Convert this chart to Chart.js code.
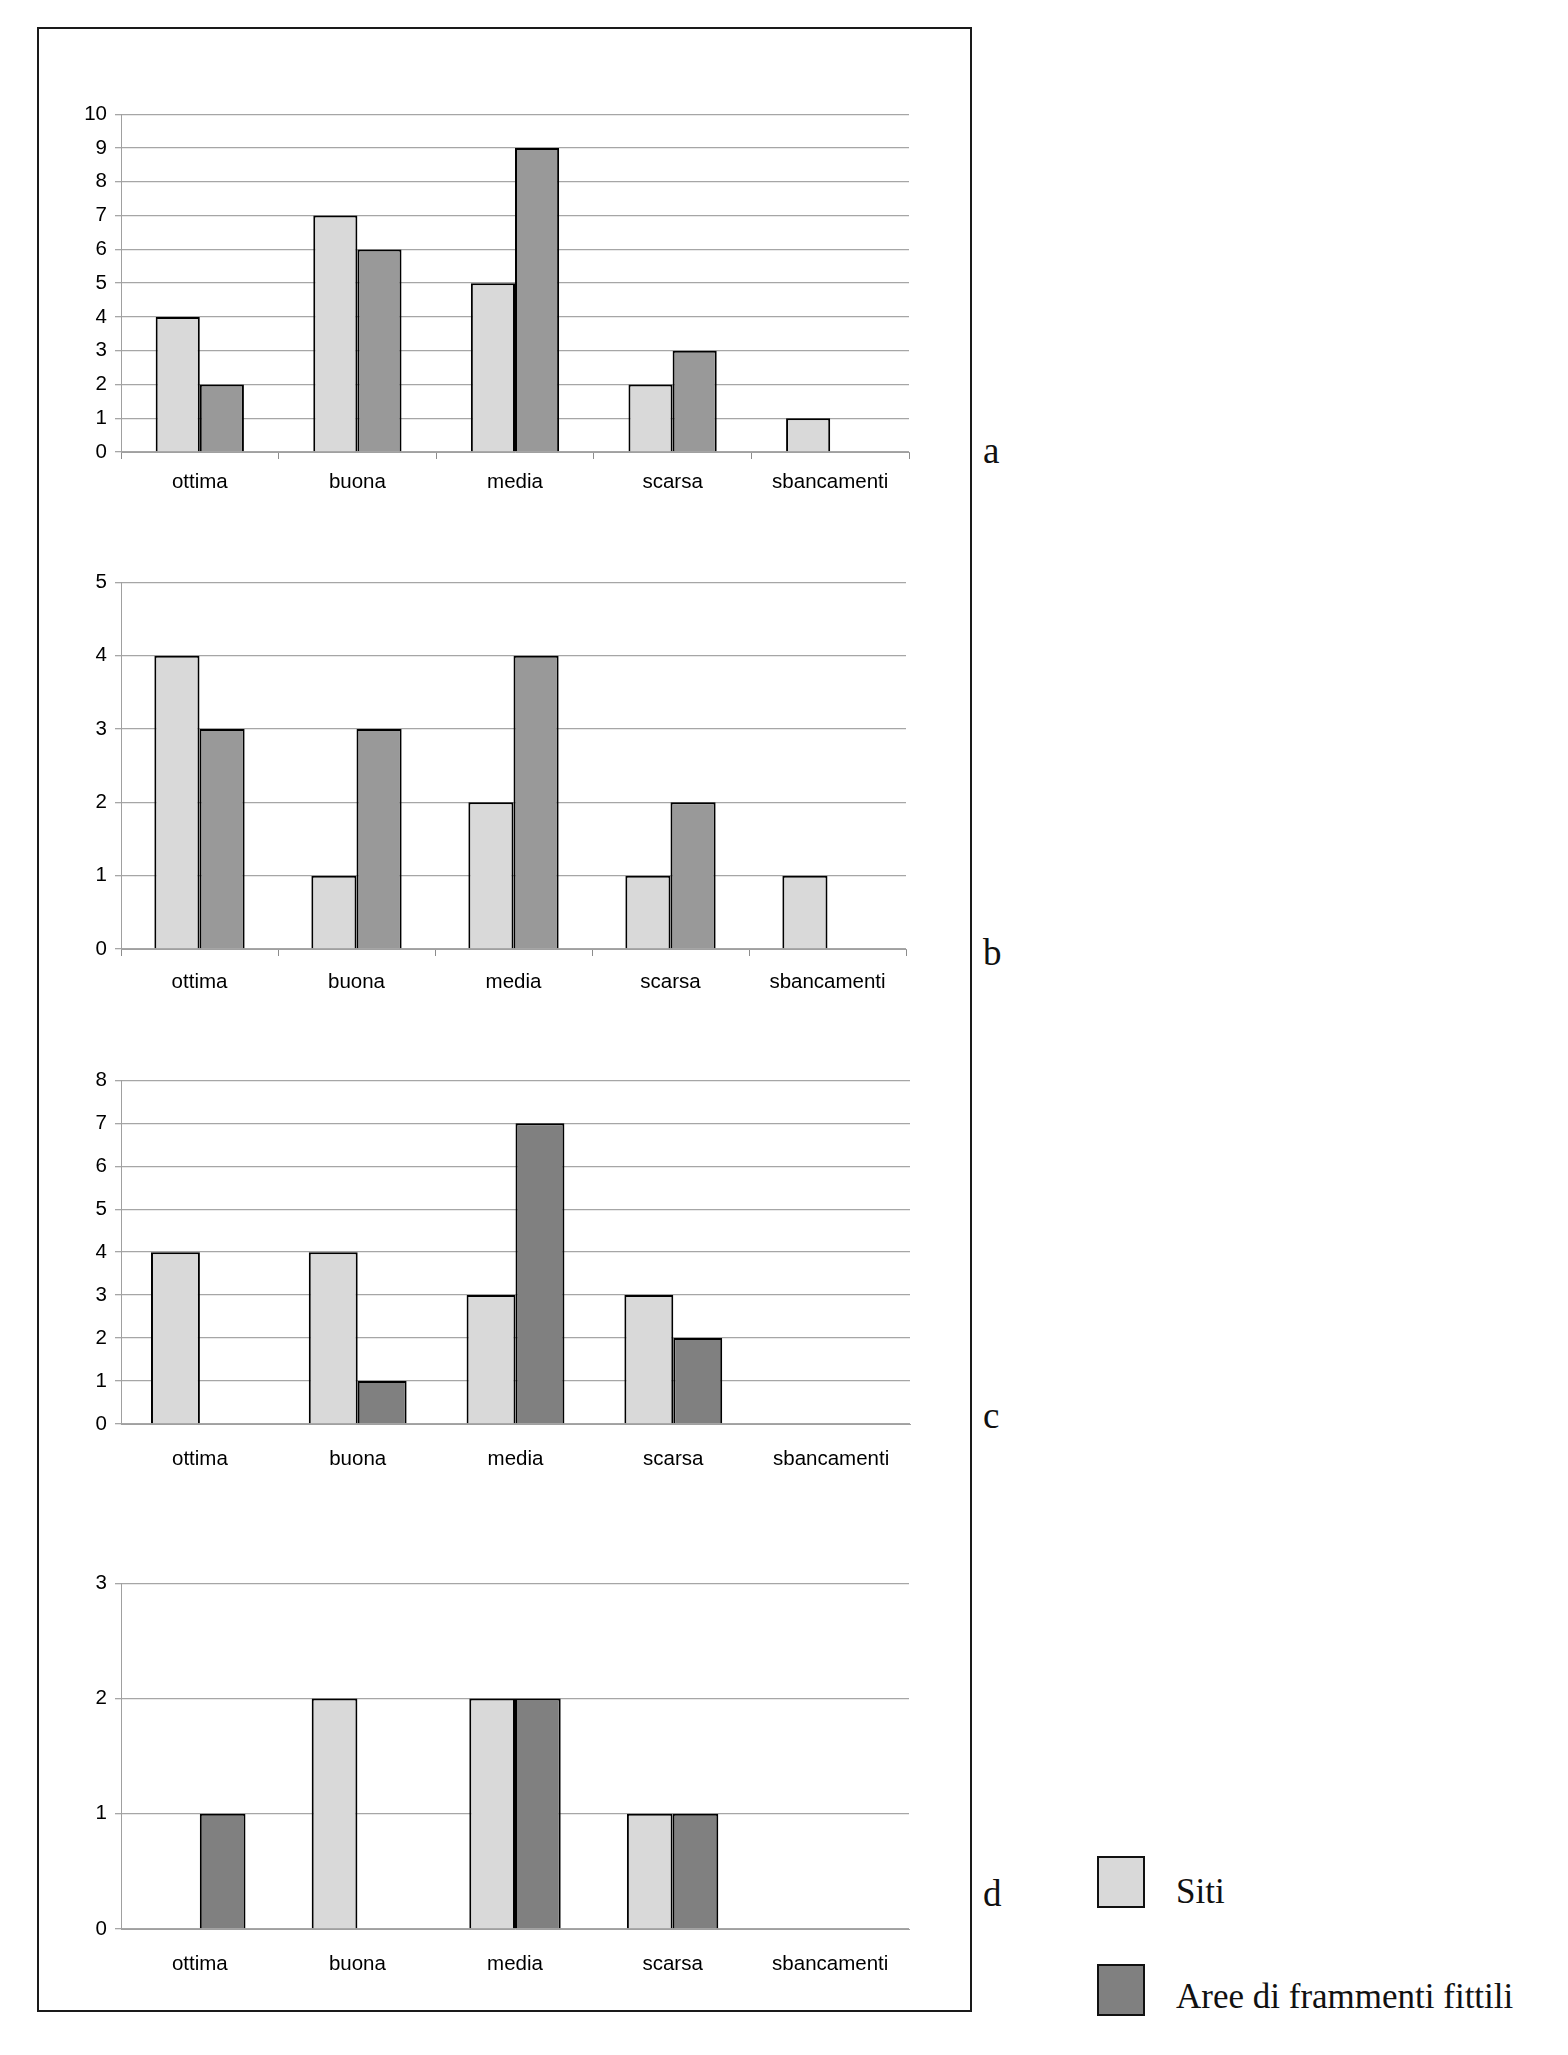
<!DOCTYPE html>
<html>
<head>
<meta charset="utf-8">
<script src="https://cdn.jsdelivr.net/npm/chart.js@4/dist/chart.umd.min.js"></script>
<style>
  body { margin: 0; background: #fff; width: 1568px; height: 2055px; position: relative; overflow: hidden; }
  #frame { position: absolute; left: 37px; top: 27px; width: 931px; height: 1981px; border: 2px solid #1a1a1a; }
  canvas { position: absolute; left: 60px; }
  .tag { position: absolute; font-family: "Liberation Serif", serif; font-size: 37px; color: #111; line-height: 1; }
  .key { position: absolute; left: 1097px; width: 44px; height: 48px; border: 2px solid #111; }
  .keytxt { position: absolute; left: 1176px; font-family: "Liberation Serif", serif; font-size: 35px; color: #111; line-height: 1; }
</style>
</head>
<body>
<div id="frame"></div>
<canvas id="chartA"></canvas>
<canvas id="chartB"></canvas>
<canvas id="chartC"></canvas>
<canvas id="chartD"></canvas>

<div class="tag" style="left:983px;top:432px">a</div>
<div class="tag" style="left:983px;top:934px">b</div>
<div class="tag" style="left:983px;top:1397px">c</div>
<div class="tag" style="left:983px;top:1875px">d</div>

<div class="key" style="top:1856px;background:#d9d9d9"></div>
<div class="keytxt" style="top:1874px">Siti</div>
<div class="key" style="top:1964px;background:#808080"></div>
<div class="keytxt" style="top:1979px">Aree di frammenti fittili</div>

<script>
// data
const categories = ['ottima', 'buona', 'media', 'scarsa', 'sbancamenti'];

const sitiA = [4, 7, 5, 2, 1];
const areeA = [2, 6, 9, 3, 0];

const sitiB = [4, 1, 2, 1, 1];
const areeB = [3, 3, 4, 2, 0];

const sitiC = [4, 4, 3, 3, 0];
const areeC = [0, 1, 7, 2, 0];

const sitiD = [0, 2, 2, 1, 0];
const areeD = [1, 0, 2, 1, 0];

const yMax = { a: 10, b: 5, c: 8, d: 3 };

const tickFont = { family: 'Liberation Sans', size: 20.5 };
const PAD_TOP = 14, PAD_RIGHT = 14, X_AXIS_H = 60, Y_AXIS_W = 61, LEFT = 60;

// one panel: top/bottom/right are the plot area edges on the page
function makeChart(id, siti, aree, max, p) {
    const cv = document.getElementById(id);
    const w = p.right - LEFT + PAD_RIGHT;
    const h = PAD_TOP + (p.bottom - p.top) + X_AXIS_H;
    cv.width = w; cv.height = h;
    cv.style.width = w + 'px'; cv.style.height = h + 'px';
    cv.style.top = (p.top - PAD_TOP) + 'px';

    const noZero = c => c.raw === 0 ? 0 : 2;

    return new Chart(cv.getContext('2d'), {
        type: 'bar',
        data: {
            labels: categories,
            datasets: [{
                label: 'Siti',
                data: siti,
                backgroundColor: '#d9d9d9',
                borderColor: '#000',
                borderWidth: noZero,
            }, {
                label: 'Aree di frammenti fittili',
                data: aree,
                backgroundColor: p.areeColor,
                borderColor: '#000',
                borderWidth: noZero,
            }]
        },
        options: {
            responsive: false,
            animation: false,
            events: [],
            layout: { padding: { top: PAD_TOP, right: PAD_RIGHT, left: 0, bottom: 0 } },
            datasets: { bar: { categoryPercentage: p.catPct, barPercentage: 1 } },
            plugins: { legend: { display: false }, tooltip: { enabled: false } },
            scales: {
                x: {
                    grid: { drawOnChartArea: false, drawTicks: p.xTicks, tickLength: 7, color: '#8c8c8c', offset: true },
                    border: { color: '#a0a0a0', width: 1 },
                    ticks: { color: '#000', font: tickFont, padding: p.labelPad, maxRotation: 0 },
                    afterFit: s => { s.height = X_AXIS_H; }
                },
                y: {
                    min: 0,
                    max: max,
                    ticks: { stepSize: 1, color: '#000', font: tickFont, padding: 8 },
                    grid: { color: '#a6a6a6', lineWidth: 1.3, tickLength: 6 },
                    border: { color: '#a0a0a0', width: 1 },
                    afterFit: s => { s.width = Y_AXIS_W; }
                }
            }
        }
    });
}

makeChart('chartA', sitiA, areeA, yMax.a, { top: 108, bottom: 452, right: 909, areeColor: '#999999', catPct: 0.56, xTicks: true, labelPad: 11 });
makeChart('chartB', sitiB, areeB, yMax.b, { top: 576, bottom: 949, right: 906, areeColor: '#999999', catPct: 0.575, xTicks: true, labelPad: 14 });
makeChart('chartC', sitiC, areeC, yMax.c, { top: 1074, bottom: 1424, right: 910, areeColor: '#808080', catPct: 0.62, xTicks: false, labelPad: 23 });
makeChart('chartD', sitiD, areeD, yMax.d, { top: 1577, bottom: 1929, right: 909, areeColor: '#808080', catPct: 0.58, xTicks: false, labelPad: 23 });
</script>
</body>
</html>
